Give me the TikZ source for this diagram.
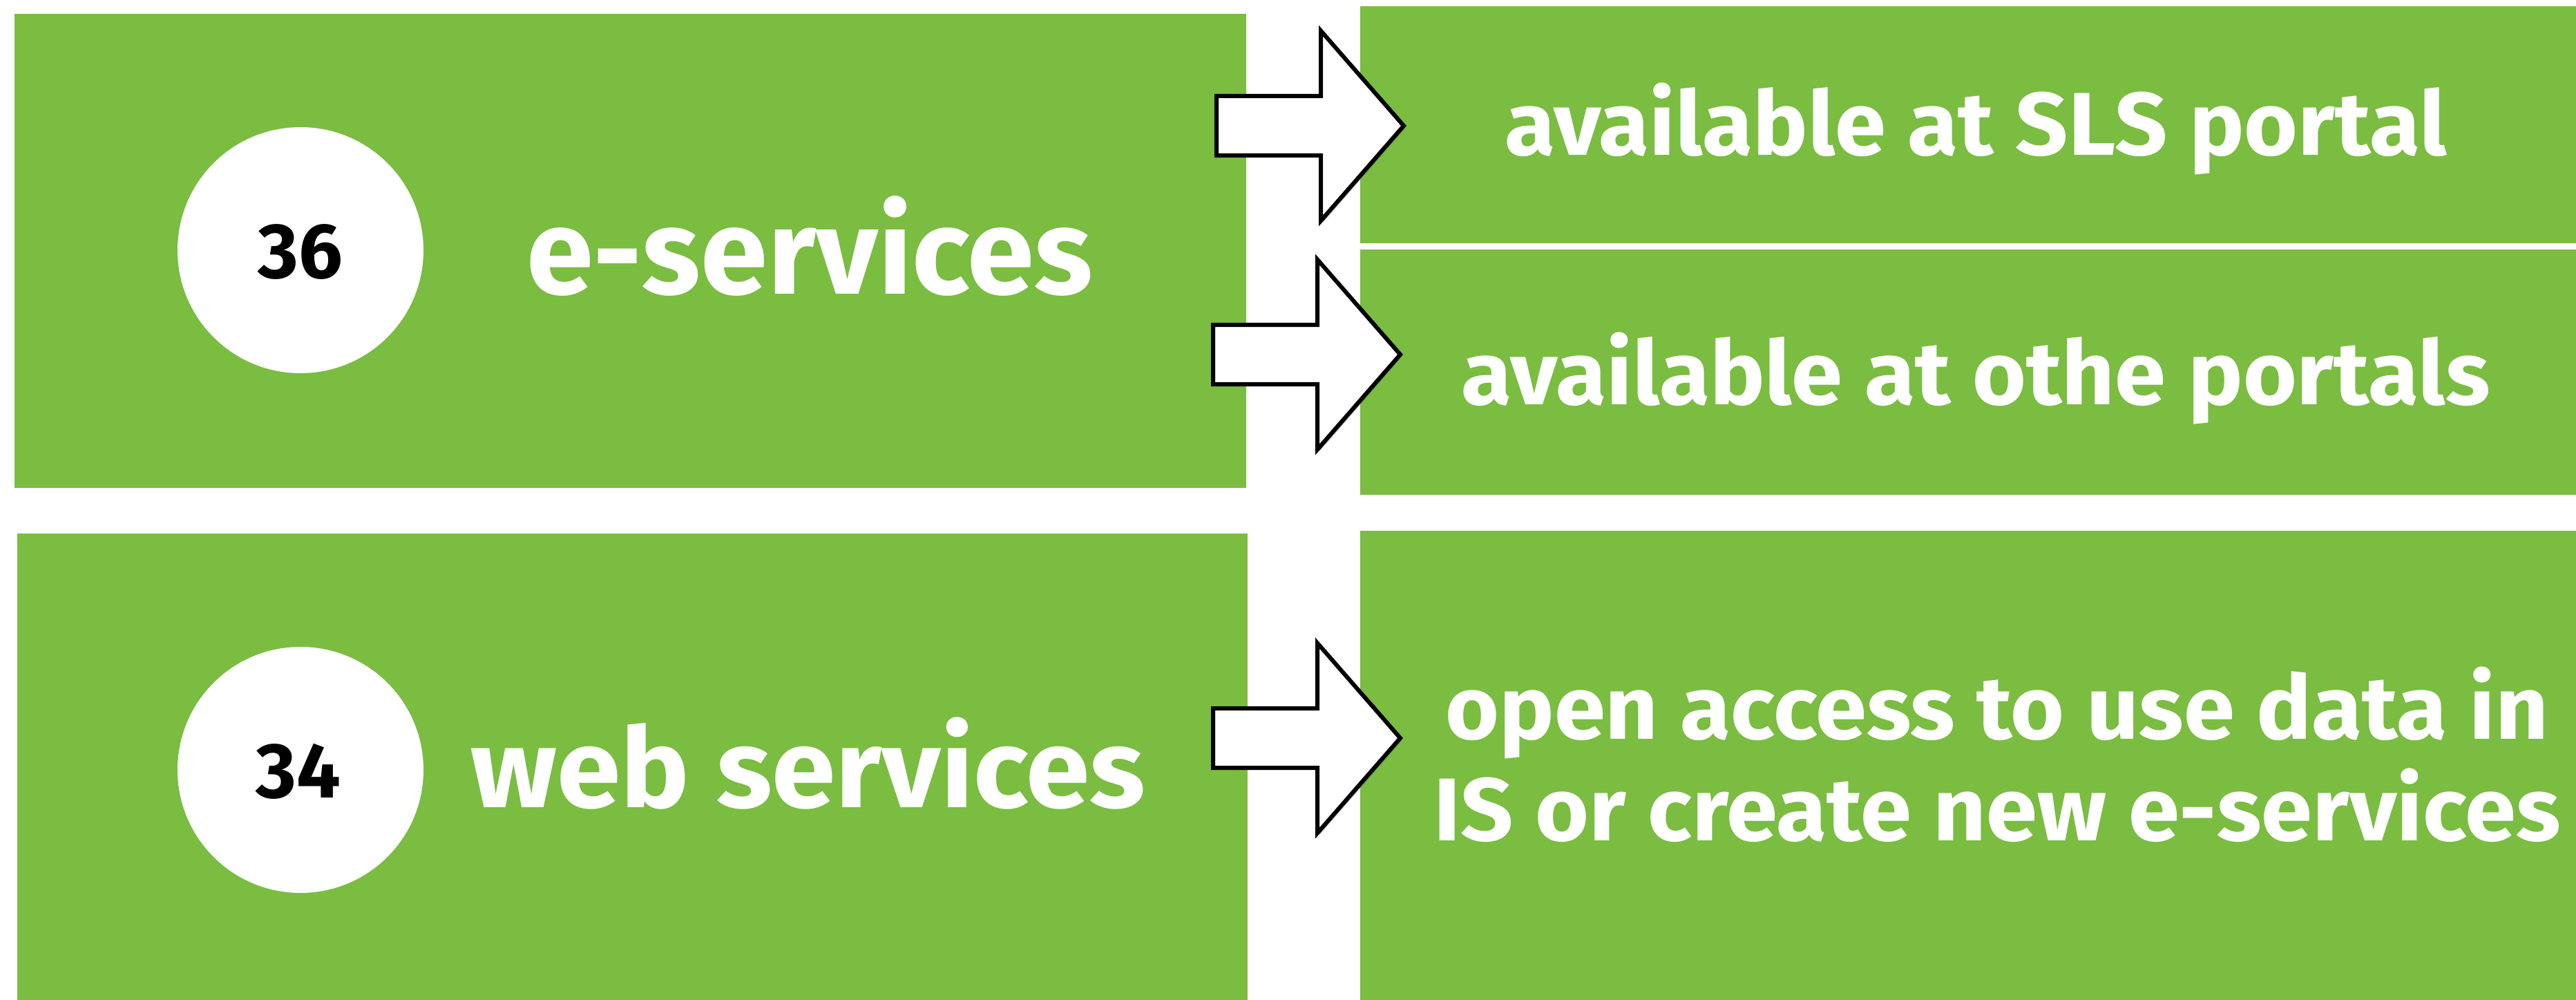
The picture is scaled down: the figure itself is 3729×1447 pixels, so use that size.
\documentclass[tikz,border=0pt]{standalone}
\usepackage{fontspec}
\setmainfont{Fira Sans}
\newfontfamily\widefont{Fira Sans}[FakeStretch=1.035]
\usetikzlibrary{shadows}
\definecolor{leaf}{RGB}{122,189,65}
\tikzset{
  greenbox/.style={fill=leaf, draw=none, inner sep=0pt, outer sep=0pt},
  disc/.style={circle, fill=white, draw=none, minimum size=356pt, inner sep=0pt},
  numtext/.style={text=black, inner sep=0pt, font=\fontsize{113}{130}\selectfont\bfseries},
  lefttext/.style={text=white, inner sep=0pt, anchor=base},
  sidetext/.style={text=white, inner sep=0pt, anchor=base, align=center,
                   font=\widefont\fontsize{129}{147}\selectfont\bfseries},
  arrowline/.style={fill=white, draw=black, line width=6pt, miter limit=10,
                    drop shadow={shadow xshift=3pt, shadow yshift=-3pt, opacity=0.35, fill=black!60}},
  blockarrow/.pic={
    \draw[arrowline] (-271,-43) -- (-120,-43) -- (-120,-137.5) -- (0,0)
      -- (-120,137.5) -- (-120,43) -- (-271,43) -- cycle;
  }
}
\begin{document}
\begin{tikzpicture}[x=1pt,y=-1pt]
\useasboundingbox (0,0) rectangle (3729,1447);
% boxes
\node[greenbox, minimum width=1783pt, minimum height=686pt] (tl) at (912.5,363) {};
\node[greenbox, minimum width=1781pt, minimum height=675pt] (bl) at (915.5,1109.5) {};
\node[greenbox, minimum width=1760pt, minimum height=343pt] (tr1) at (2849,180.5) {};
\node[greenbox, minimum width=1760pt, minimum height=355pt] (tr2) at (2849,538.5) {};
\node[greenbox, minimum width=1760pt, minimum height=679pt] (br) at (2849,1107.5) {};
% circles
\node[disc] (c1) at (435,362) {};
\node[disc] (c2) at (435,1114) {};
\node[numtext] (n1) at (435,364) {36};
\node[numtext] (n2) at (432,1116) {34};
% left texts
\node[lefttext, font=\fontsize{175}{200}\selectfont\bfseries] (t1) at (1172,425) {e-services};
\node[lefttext, font=\widefont\fontsize{161}{190}\selectfont\bfseries] (t2) at (1170,1168) {web services};
% right texts
\node[sidetext] (r1) at (2860,225) {available at SLS portal};
\node[sidetext] (r2) at (2860,585) {available at othe portals};
\node[sidetext] (r3) at (2891,1216) {open access to use data in\\IS or create new e-services};
% arrows
\pic (a1) at (2032,182) {blockarrow};
\pic (a2) at (2027,513) {blockarrow};
\pic (a3) at (2027,1068) {blockarrow};
\end{tikzpicture}
\end{document}
